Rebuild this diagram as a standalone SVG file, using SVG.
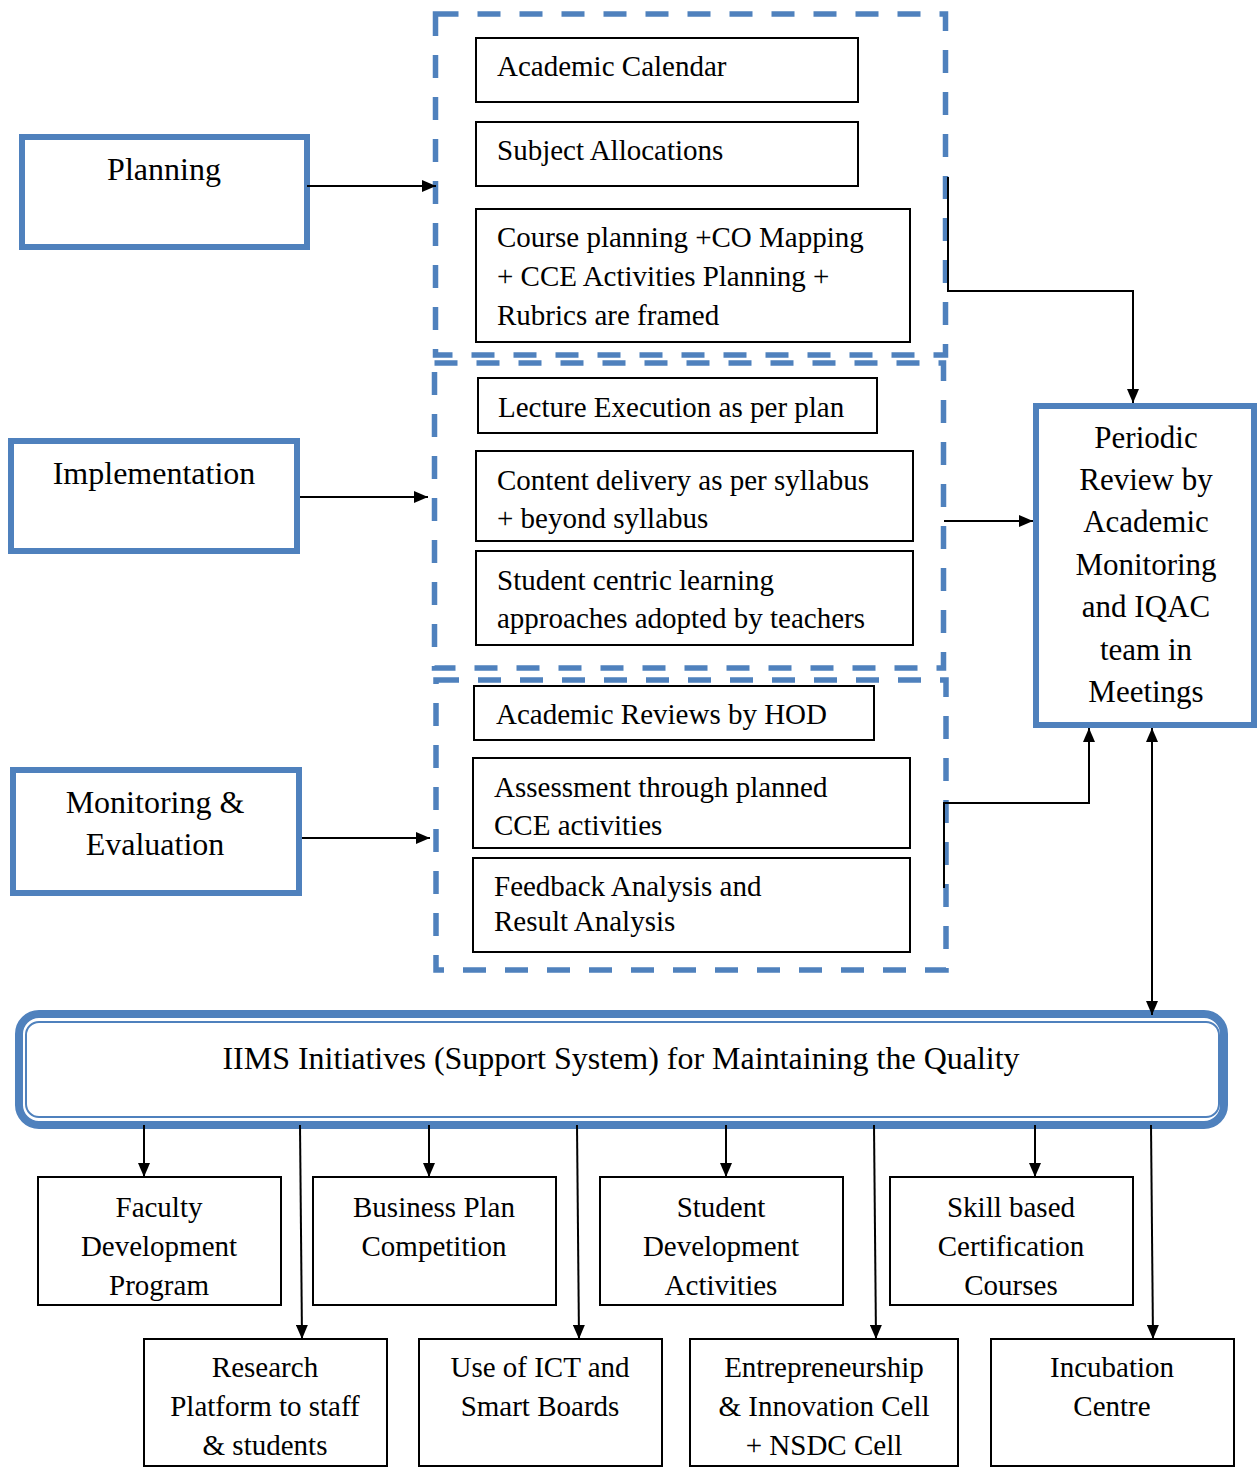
<svg xmlns="http://www.w3.org/2000/svg" width="1257" height="1467" viewBox="0 0 1257 1467">
<defs>
<marker id="ah" markerUnits="userSpaceOnUse" markerWidth="14" markerHeight="12" refX="14" refY="6" orient="auto-start-reverse" viewBox="0 0 14 12">
<path d="M0,0 L14,6 L0,12 z" fill="#000"/>
</marker>
<style>
.stage{fill:#fff;stroke:#4f81bd;stroke-width:6}
.dash{fill:none;stroke:#4f81bd;stroke-width:5.5;stroke-dasharray:23 19}
.box{fill:#fff;stroke:#000;stroke-width:2}
.t{font-family:"Liberation Serif","Times New Roman",serif;fill:#000}
.lbl{font-size:32px;text-anchor:middle}
.in{font-size:29px}
.rv{font-size:31px;text-anchor:middle}
.bt{font-size:29px;text-anchor:middle}
.arr{fill:none;stroke:#000;stroke-width:2;marker-end:url(#ah)}
</style>
</defs>
<rect width="1257" height="1467" fill="#fff"/>

<g id="group-planning-items">
<rect class="dash" x="435.5" y="14" width="510" height="341"/>
</g>
<g id="group-implementation-items">
<rect class="dash" x="434.5" y="363" width="509" height="305"/>
</g>
<g id="group-monitoring-items">
<rect class="dash" x="436" y="680" width="510" height="290"/>
</g>

<g id="planning"><rect class="stage" x="22" y="137" width="285" height="110"/><text class="t lbl" x="164" y="180">Planning</text></g>
<g id="implementation"><rect class="stage" x="11" y="441" width="286" height="110"/><text class="t lbl" x="154" y="484">Implementation</text></g>
<g id="monitoring"><rect class="stage" x="13" y="770" width="286" height="123"/><text class="t lbl" x="155" y="813">Monitoring &amp;</text><text class="t lbl" x="155" y="855">Evaluation</text></g>

<g id="academic-calendar"><rect class="box" x="476" y="38" width="382" height="64"/><text class="t in" x="497" y="76">Academic Calendar</text></g>
<g id="subject-allocations"><rect class="box" x="476" y="122" width="382" height="64"/><text class="t in" x="497" y="160">Subject Allocations</text></g>
<g id="course-planning"><rect class="box" x="476" y="209" width="434" height="133"/><text class="t in" x="497" y="247">Course planning +CO Mapping</text><text class="t in" x="497" y="286">+ CCE Activities Planning +</text><text class="t in" x="497" y="325">Rubrics are framed</text></g>

<g id="lecture-execution"><rect class="box" x="478" y="378" width="399" height="55"/><text class="t in" x="498" y="417">Lecture Execution as per plan</text></g>
<g id="content-delivery"><rect class="box" x="476" y="451" width="437" height="90"/><text class="t in" x="497" y="490">Content delivery as per syllabus</text><text class="t in" x="497" y="528">+ beyond syllabus</text></g>
<g id="student-centric"><rect class="box" x="476" y="551" width="437" height="94"/><text class="t in" x="497" y="590">Student centric learning</text><text class="t in" x="497" y="628">approaches adopted by teachers</text></g>

<g id="academic-reviews"><rect class="box" x="474" y="686" width="400" height="54"/><text class="t in" x="496" y="724">Academic Reviews by HOD</text></g>
<g id="assessment"><rect class="box" x="473" y="758" width="437" height="90"/><text class="t in" x="494" y="797">Assessment through planned</text><text class="t in" x="494" y="835">CCE activities</text></g>
<g id="feedback"><rect class="box" x="473" y="858" width="437" height="94"/><text class="t in" x="494" y="896">Feedback Analysis and</text><text class="t in" x="494" y="931">Result Analysis</text></g>

<g id="periodic-review"><rect class="stage" x="1036" y="406" width="218" height="319"/>
<text class="t rv" x="1146" y="448">Periodic</text>
<text class="t rv" x="1146" y="490">Review by</text>
<text class="t rv" x="1146" y="532">Academic</text>
<text class="t rv" x="1146" y="575">Monitoring</text>
<text class="t rv" x="1146" y="617">and IQAC</text>
<text class="t rv" x="1146" y="660">team in</text>
<text class="t rv" x="1146" y="702">Meetings</text>
</g>

<g id="iims"><rect x="19" y="1014" width="1205" height="111" rx="20" fill="#fff" stroke="#4f81bd" stroke-width="8"/><rect x="26" y="1022" width="1193" height="95" rx="13" fill="none" stroke="#4f81bd" stroke-width="2"/><text class="t" x="621" y="1069" font-size="32" text-anchor="middle">IIMS Initiatives (Support System) for Maintaining the Quality</text></g>

<g id="faculty"><rect class="box" x="38" y="1177" width="243" height="128"/><text class="t bt" x="159" y="1217">Faculty</text><text class="t bt" x="159" y="1256">Development</text><text class="t bt" x="159" y="1295">Program</text></g>
<g id="business"><rect class="box" x="313" y="1177" width="243" height="128"/><text class="t bt" x="434" y="1217">Business Plan</text><text class="t bt" x="434" y="1256">Competition</text></g>
<g id="student-dev"><rect class="box" x="600" y="1177" width="243" height="128"/><text class="t bt" x="721" y="1217">Student</text><text class="t bt" x="721" y="1256">Development</text><text class="t bt" x="721" y="1295">Activities</text></g>
<g id="skill"><rect class="box" x="890" y="1177" width="243" height="128"/><text class="t bt" x="1011" y="1217">Skill based</text><text class="t bt" x="1011" y="1256">Certification</text><text class="t bt" x="1011" y="1295">Courses</text></g>

<g id="research"><rect class="box" x="144" y="1339" width="243" height="127"/><text class="t bt" x="265" y="1377">Research</text><text class="t bt" x="265" y="1416">Platform to staff</text><text class="t bt" x="265" y="1455">&amp; students</text></g>
<g id="ict"><rect class="box" x="419" y="1339" width="243" height="127"/><text class="t bt" x="540" y="1377">Use of ICT and</text><text class="t bt" x="540" y="1416">Smart Boards</text></g>
<g id="entrepreneurship"><rect class="box" x="690" y="1339" width="268" height="127"/><text class="t bt" x="824" y="1377">Entrepreneurship</text><text class="t bt" x="824" y="1416">&amp; Innovation Cell</text><text class="t bt" x="824" y="1455">+ NSDC Cell</text></g>
<g id="incubation"><rect class="box" x="991" y="1339" width="243" height="127"/><text class="t bt" x="1112" y="1377">Incubation</text><text class="t bt" x="1112" y="1416">Centre</text></g>

<g id="connectors">
<path class="arr" d="M307,186 H436"/>
<path class="arr" d="M300,497 H428"/>
<path class="arr" d="M302,838 H430"/>
<path class="arr" d="M948,177 V291 H1133 V403"/>
<path class="arr" d="M944,521 H1033"/>
<path class="arr" d="M944,888 V803 H1089 V728"/>
<path class="arr" d="M1152,1015 V728" style="marker-start:url(#ah)"/>
<path class="arr" d="M144,1125 V1177"/>
<path class="arr" d="M429,1125 V1177"/>
<path class="arr" d="M726,1125 V1177"/>
<path class="arr" d="M1035,1125 V1177"/>
<path class="arr" d="M300,1125 L302,1339"/>
<path class="arr" d="M577,1125 L579,1339"/>
<path class="arr" d="M874,1125 L876,1339"/>
<path class="arr" d="M1151,1125 L1153,1339"/>
</g>
</svg>
